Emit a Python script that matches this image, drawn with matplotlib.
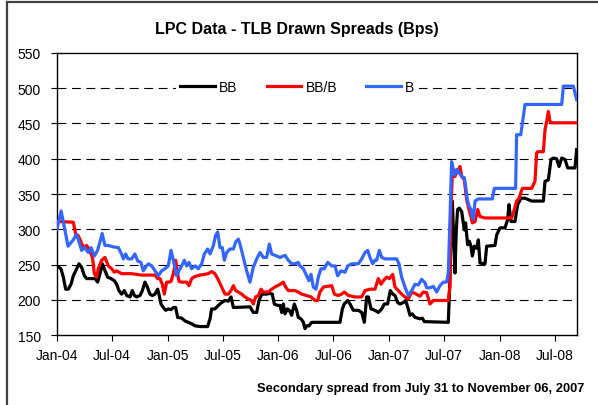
import numpy as np
import pandas as pd
import matplotlib
matplotlib.use("Agg")
import matplotlib.pyplot as plt
import matplotlib.dates as mdates
from matplotlib.lines import Line2D

plt.rcParams["font.family"] = ["Liberation Sans", "DejaVu Sans"]

# observation times, in months elapsed since 1 Jan 2004
bb_t = [0.0, 0.43, 0.69, 0.94, 1.23, 1.52, 1.77, 2.03, 2.39, 2.67,
        2.97, 3.22, 3.76, 4.12, 4.41, 4.66, 4.92, 5.21, 5.5, 5.86,
        6.22, 6.47, 6.72, 7.01, 7.3, 7.56, 7.92, 8.17, 8.39, 8.64,
        9.0, 9.26, 9.54, 9.8, 10.08, 10.34, 10.63, 10.92, 11.06, 11.28,
        11.53, 11.79, 12.07, 12.37, 12.62, 12.87, 13.09, 13.52, 13.88, 14.24,
        14.6, 14.97, 15.51, 16.34, 16.6, 16.77, 17.13, 17.5, 17.86, 18.22,
        18.58, 18.87, 19.13, 20.93, 21.29, 21.66, 21.91, 22.2, 22.74, 23.1,
        23.35, 23.57, 23.93, 24.19, 24.37, 24.55, 24.73, 24.98, 25.2, 25.45,
        25.74, 25.99, 26.17, 26.46, 26.72, 26.9, 27.08, 27.33, 27.62, 30.69,
        30.95, 31.16, 31.53, 31.78, 32.14, 32.68, 33.05, 33.33, 33.59, 33.77,
        34.06, 34.49, 34.85, 35.22, 35.5, 35.86, 36.15, 36.41, 36.66, 36.95,
        37.2, 37.56, 37.81, 38.1, 38.28, 38.54, 38.83, 39.12, 39.37, 39.62,
        39.84, 42.44, 42.59, 42.73, 42.88, 42.98, 43.16, 43.31, 43.45, 43.64,
        43.89, 44.18, 44.32, 44.43, 44.54, 44.72, 44.9, 45.05, 45.26, 45.52,
        45.7, 45.88, 46.42, 46.6, 47.5, 47.69, 48.05, 48.59, 48.88, 49.02,
        49.24, 49.67, 49.96, 50.33, 50.76, 51.48, 52.75, 52.93, 53.29, 53.58,
        53.83, 54.19, 54.45, 54.74, 55.1, 55.39, 56.18, 56.36]
bb = [248, 244, 232, 215, 215, 222, 234, 241, 251, 246,
      234, 230, 230, 230, 225, 237, 251, 241, 232, 230,
      227, 222, 213, 208, 213, 206, 204, 213, 206, 204,
      206, 213, 225, 218, 208, 206, 208, 215, 208, 194,
      189, 185, 187, 186, 189, 189, 175, 174, 170, 168,
      166, 163, 162, 162, 173, 187, 187, 192, 196, 199,
      198, 204, 189, 190, 182, 182, 199, 208, 208, 209,
      208, 194, 192, 192, 182, 194, 180, 187, 185, 178,
      194, 185, 175, 173, 168, 159, 163, 163, 168, 168,
      187, 194, 199, 194, 185, 185, 182, 168, 204, 204,
      187, 185, 182, 187, 194, 194, 213, 208, 206, 196,
      194, 196, 199, 187, 178, 180, 175, 174, 173, 174,
      169, 168, 219, 290, 340, 304, 238, 299, 328, 330,
      325, 299, 309, 292, 278, 283, 276, 262, 276, 273,
      285, 252, 251, 276, 277, 292, 302, 302, 314, 335,
      311, 311, 335, 344, 344, 340, 340, 368, 370, 399,
      401, 400, 389, 401, 399, 387, 387, 413]

bbb_t = [0.0, 1.77, 2.03, 2.31, 2.6, 2.86, 3.22, 3.58, 3.87, 4.05,
         4.3, 4.48, 4.84, 5.21, 5.57, 5.93, 6.22, 6.47, 7.01, 8.1,
         9.18, 10.63, 10.92, 11.17, 11.42, 11.64, 11.89, 12.15, 12.37, 12.62,
         12.87, 13.05, 13.23, 13.52, 14.06, 14.32, 14.6, 14.97, 15.51, 16.41,
         16.77, 17.13, 17.43, 17.86, 18.22, 18.58, 18.87, 19.13, 19.38, 19.67,
         20.03, 20.39, 20.75, 21.11, 21.29, 21.55, 21.84, 22.13, 22.38, 22.92,
         23.28, 23.64, 24.19, 24.55, 24.8, 25.09, 25.81, 26.17, 26.53, 27.08,
         27.55, 27.98, 28.27, 28.52, 28.89, 29.8, 30.08, 30.51, 30.87, 31.16,
         31.6, 32.32, 33.05, 33.41, 33.95, 34.49, 34.85, 35.14, 35.39, 35.76,
         36.04, 36.41, 36.66, 37.02, 37.38, 37.74, 38.1, 38.47, 38.83, 39.37,
         39.73, 40.1, 40.45, 40.82, 42.44, 42.62, 42.73, 42.88, 43.16, 43.42,
         43.71, 43.89, 44.18, 44.43, 44.68, 44.9, 45.05, 45.34, 45.63, 45.88,
         46.42, 49.31, 49.6, 49.85, 50.11, 50.47, 51.48, 51.66, 51.84, 52.02,
         52.13, 52.75, 52.93, 53.11, 53.29, 53.47, 53.65, 56.36]
bbb = [311, 310, 293, 291, 282, 274, 277, 270, 258, 237,
       232, 244, 256, 260, 248, 244, 239, 241, 237, 237,
       235, 235, 230, 230, 222, 208, 225, 225, 226, 237,
       256, 241, 226, 225, 225, 220, 230, 233, 235, 237,
       240, 237, 230, 218, 208, 208, 213, 220, 213, 211,
       208, 204, 201, 199, 194, 204, 206, 215, 211, 211,
       215, 218, 222, 225, 218, 213, 213, 211, 208, 206,
       204, 199, 199, 211, 218, 220, 208, 206, 208, 211,
       206, 204, 204, 213, 215, 215, 230, 222, 227, 232,
       230, 236, 218, 213, 208, 204, 201, 211, 209, 205,
       211, 210, 194, 199, 199, 219, 333, 375, 375, 382,
       389, 375, 370, 342, 328, 318, 309, 311, 328, 318,
       316, 316, 328, 340, 344, 358, 358, 363, 368, 408,
       410, 410, 441, 453, 467, 453, 451, 451]

b_t = [0.0, 0.45, 1.2, 1.77, 2.13, 2.67, 3.0, 3.4, 3.7, 4.05,
       4.4, 4.66, 4.9, 5.2, 5.57, 6.1, 6.65, 7.0, 7.2, 7.45,
       7.7, 8.1, 8.45, 8.75, 9.1, 9.36, 9.7, 9.91, 10.27, 10.63,
       10.99, 11.35, 11.71, 12.07, 12.37, 12.62, 12.98, 13.23, 13.52, 13.81,
       14.06, 14.32, 14.6, 14.97, 15.33, 15.69, 15.98, 16.34, 16.6, 16.96,
       17.2, 17.43, 17.68, 17.93, 18.15, 18.4, 18.77, 19.13, 19.38, 19.67,
       19.85, 20.21, 20.57, 20.93, 21.29, 21.66, 22.02, 22.38, 22.74, 23.03,
       23.28, 23.64, 24.19, 24.73, 25.09, 25.45, 25.81, 26.17, 26.35, 26.72,
       27.08, 27.33, 27.55, 27.8, 28.09, 28.34, 28.63, 28.99, 29.36, 29.8,
       30.15, 30.44, 30.8, 31.24, 31.53, 31.96, 32.68, 33.05, 33.41, 33.7,
       33.95, 34.24, 34.49, 34.67, 34.96, 35.22, 35.57, 36.3, 36.84, 37.09,
       37.38, 37.74, 38.1, 38.47, 38.83, 39.19, 39.55, 39.91, 40.1, 40.45,
       40.82, 41.18, 41.54, 41.9, 42.26, 42.44, 42.62, 42.8, 42.98, 43.16,
       43.35, 43.53, 43.89, 44.18, 44.32, 44.5, 44.72, 44.9, 45.05, 45.15,
       45.34, 45.7, 47.22, 47.43, 49.74, 49.85, 50.3, 50.76, 54.74, 54.92,
       56.0, 56.36]
b = [300, 326, 276, 285, 293, 270, 274, 267, 274, 262,
     270, 282, 294, 277, 277, 275, 274, 265, 258, 265,
     258, 258, 265, 255, 253, 241, 248, 251, 248, 241,
     234, 241, 244, 248, 270, 256, 234, 241, 248, 256,
     248, 253, 244, 248, 244, 251, 265, 272, 265, 277,
     291, 296, 274, 274, 256, 267, 272, 272, 282, 286,
     279, 260, 241, 225, 246, 258, 267, 260, 260, 279,
     265, 263, 260, 263, 256, 251, 251, 253, 248, 244,
     234, 227, 236, 218, 215, 232, 244, 244, 253, 248,
     248, 234, 241, 239, 248, 251, 251, 258, 267, 270,
     260, 251, 256, 256, 270, 260, 258, 258, 258, 251,
     232, 218, 206, 213, 222, 221, 229, 224, 217, 217,
     219, 211, 220, 225, 225, 238, 314, 396, 385, 377,
     385, 382, 375, 373, 361, 342, 332, 328, 318, 314,
     340, 343, 343, 358, 358, 434, 434, 477, 477, 503,
     503, 484]

series = ["BB", "BB/B", "B"]
colors = ["black", "#ff0000", "#3366ff"]

start = pd.Timestamp("2004-01-01")


def to_dates(months):
    return start + pd.to_timedelta(np.asarray(months) * 30.4375, unit="D")


fig = plt.figure(figsize=(5.98, 4.06), dpi=100)
ax = fig.add_axes([0.0953, 0.1724, 0.8696, 0.6946])

for name, t, v, c in zip(series, [bb_t, bbb_t, b_t], [bb, bbb, b], colors):
    ax.plot(to_dates(t), v, color=c, lw=2.3, label=name, solid_joinstyle="round", zorder=3)

ax.set_ylim(150, 550)
ax.set_yticks(range(150, 551, 50))
ax.set_xlim(start, to_dates([56.4])[0])
ax.xaxis.set_major_locator(mdates.MonthLocator(bymonth=[1, 7]))
ax.xaxis.set_major_formatter(mdates.DateFormatter("%b-%y"))

for y in range(200, 501, 50):
    ax.axhline(y, color="black", lw=0.8, ls=(0, (8, 5)), zorder=1)

for s in ax.spines.values():
    s.set_linewidth(1.0)
    s.set_color("black")
ax.tick_params(axis="both", direction="out", length=4, width=0.8, labelsize=10)
ax.tick_params(axis="y", pad=7.5)
ax.tick_params(axis="x", pad=5)

leg = ax.legend(ncol=3, loc="center", bbox_to_anchor=(0.462, 0.879),
                fontsize=10, handlelength=2.5, handletextpad=0.3,
                columnspacing=2.1, frameon=True, fancybox=False,
                facecolor="white", edgecolor="none", framealpha=1,
                borderpad=0.3)
leg.set_zorder(5)

fig.text(0.497, 0.928, "LPC Data - TLB Drawn Spreads (Bps)", ha="center", va="center",
         fontsize=11.5, fontweight="bold")
fig.text(0.977, 0.042, "Secondary spread from July 31 to November 06, 2007",
         ha="right", va="center", fontsize=9.3, fontweight="bold")

# outer frame of the chart
fig.add_artist(Line2D([0.0117, 0.0117], [0, 0.9926], color="#404040", lw=1.6,
                      transform=fig.transFigure))
fig.add_artist(Line2D([0.0117, 1.0], [0.9926, 0.9926], color="#404040", lw=1.6,
                      transform=fig.transFigure))

fig.savefig("out.png", dpi=100)
